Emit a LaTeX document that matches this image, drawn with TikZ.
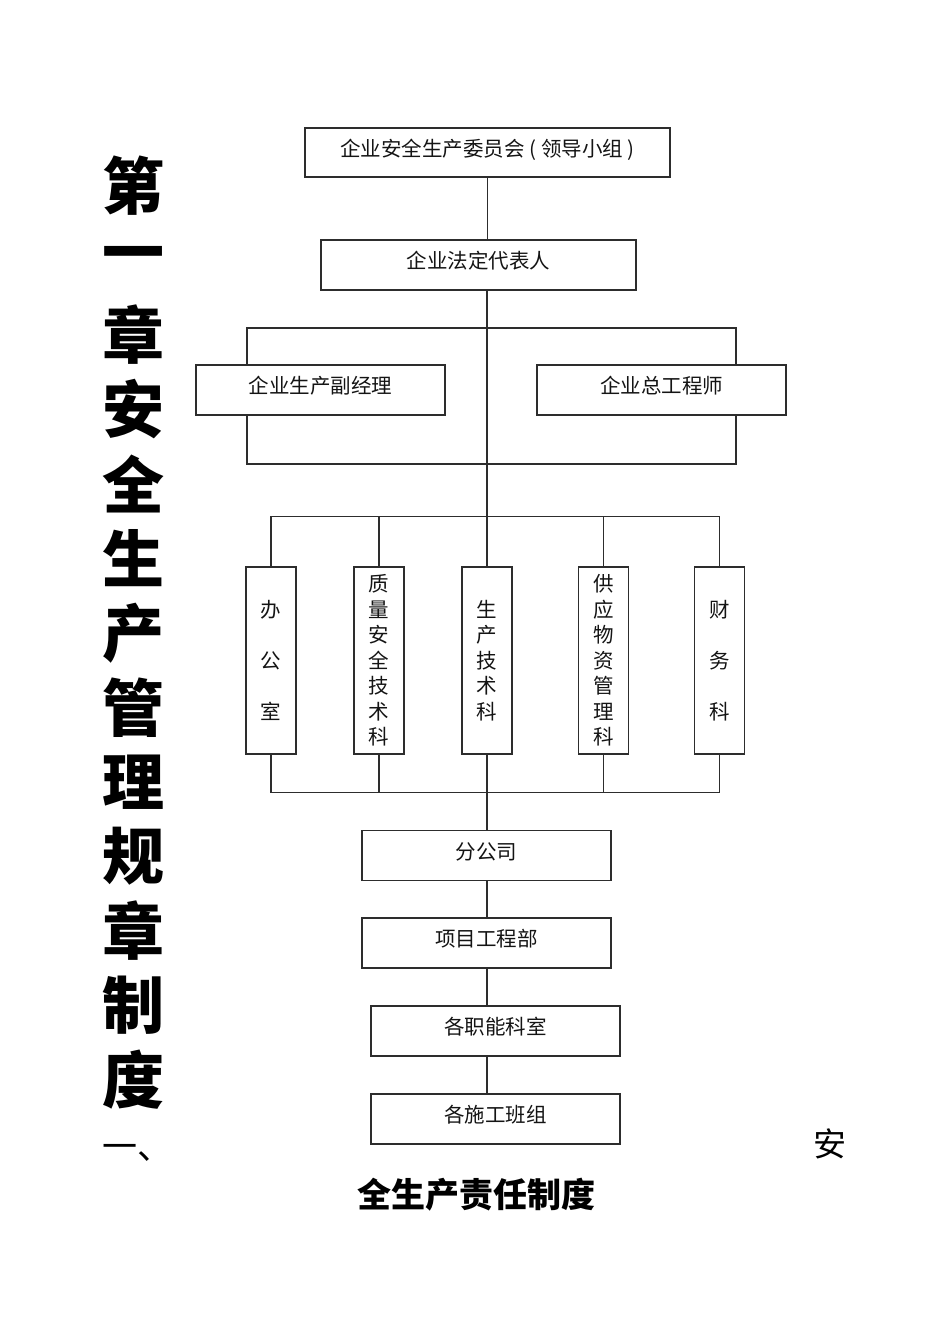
\documentclass[tikz,border=0pt]{standalone}
\usepackage{fontspec}
\usepackage{xcolor}
\usepackage{tikz}
\usetikzlibrary{positioning}
\newfontfamily\cjk{Noto Sans CJK SC}
\definecolor{orgLine}{RGB}{45,45,45}
\definecolor{orgText}{RGB}{20,20,20}

\begin{document}
\begin{tikzpicture}[x=1pt,y=-1pt,
    orgbox/.style={draw=orgLine, line width=1.3pt, fill=white, minimum width=249pt, minimum height=50pt,
        inner sep=0pt, text=orgText, text height=12pt, text depth=4.5pt, font=\cjk\fontsize{20.5}{22}\selectfont},
    deptbox/.style={draw=orgLine, line width=1.3pt, fill=white, minimum width=50pt, minimum height=187pt,
        inner sep=0pt, align=center, text=orgText},
    link/.style={draw=orgLine, line width=1.3pt},
    titlechar/.style={font=\cjk\bfseries\fontsize{62}{62}\selectfont}]
    \useasboundingbox (0,0) rectangle (950,1344);

    % vertical chapter title
    \foreach \ch [count=\i] in {第,一,章,安,全,生,产,管,理,规,章,制,度}
        \node[titlechar] (title\i) at (133,{186+74.5*(\i-1)}) {\ch};

    % top of the chart
    \node[orgbox, minimum width=365pt, minimum height=49pt] (committee) at (487.5,152.5) {企业安全生产委员会 ( 领导小组 )};
    \node[orgbox, minimum width=315pt] (legalRep) at (478.5,265) {企业法定代表人};
    \draw[link] (committee.south) -- (committee.south |- legalRep.north);

    % frame round the two deputies
    \coordinate (frameNW) at (247,328);
    \coordinate (frameSE) at (736,464);
    \draw[link] (frameNW) rectangle (frameSE);
    \node[orgbox] (viceMgr) at (320.5,390) {企业生产副经理};
    \node[orgbox] (chiefEng) at (661.5,390) {企业总工程师};

    % departments
    \node[deptbox, font=\cjk\fontsize{20.5}{51}\selectfont] (office) at (271,660.5) {办\\公\\室};
    \node[deptbox, font=\cjk\fontsize{20.5}{25.5}\selectfont] (quality) at (379,660.5) {质\\量\\安\\全\\技\\术\\科};
    \node[deptbox, font=\cjk\fontsize{20.5}{25.5}\selectfont] (production) at (487,660.5) {生\\产\\技\\术\\科};
    \node[deptbox, font=\cjk\fontsize{20.5}{25.5}\selectfont] (supply) at (603.5,660.5) {供\\应\\物\\资\\管\\理\\科};
    \node[deptbox, font=\cjk\fontsize{20.5}{51}\selectfont] (finance) at (719.5,660.5) {财\\务\\科};

    % main spine and buses
    \draw[link] (legalRep.south -| production.north) -- (production.north);
    \draw[link] (office.north) -- ++(0,-50) -| (finance.north);
    \foreach \d in {quality,supply}
        \draw[link] (\d.north) -- ++(0,-50);
    \draw[link] (office.south) -- ++(0,38) -| (finance.south);
    \foreach \d in {quality,supply}
        \draw[link] (\d.south) -- ++(0,38);

    % lower chain
    \node[orgbox] (branch) at (486.5,855.5) {分公司};
    \node[orgbox] (project) at (486.5,943) {项目工程部};
    \node[orgbox] (functions) at (495.5,1031) {各职能科室};
    \node[orgbox] (teams) at (495.5,1119) {各施工班组};
    \draw[link] (production.south) -- (production.south |- branch.north);
    \draw[link] (branch.south -| production.south) -- (production.south |- project.north);
    \draw[link] (project.south -| production.south) -- (production.south |- functions.north);
    \draw[link] (functions.south -| production.south) -- (production.south |- teams.north);

    % section heading
    \node[font=\cjk\fontsize{35}{35}\selectfont] (secNum) at (137,1153) {一、};
    \node[font=\cjk\fontsize{33}{33}\selectfont] (secHead) at (830,1144) {安};
    \node[font=\cjk\bfseries\fontsize{34}{34}\selectfont] (secHeadTail) at (476,1195) {全生产责任制度};
\end{tikzpicture}
\end{document}
